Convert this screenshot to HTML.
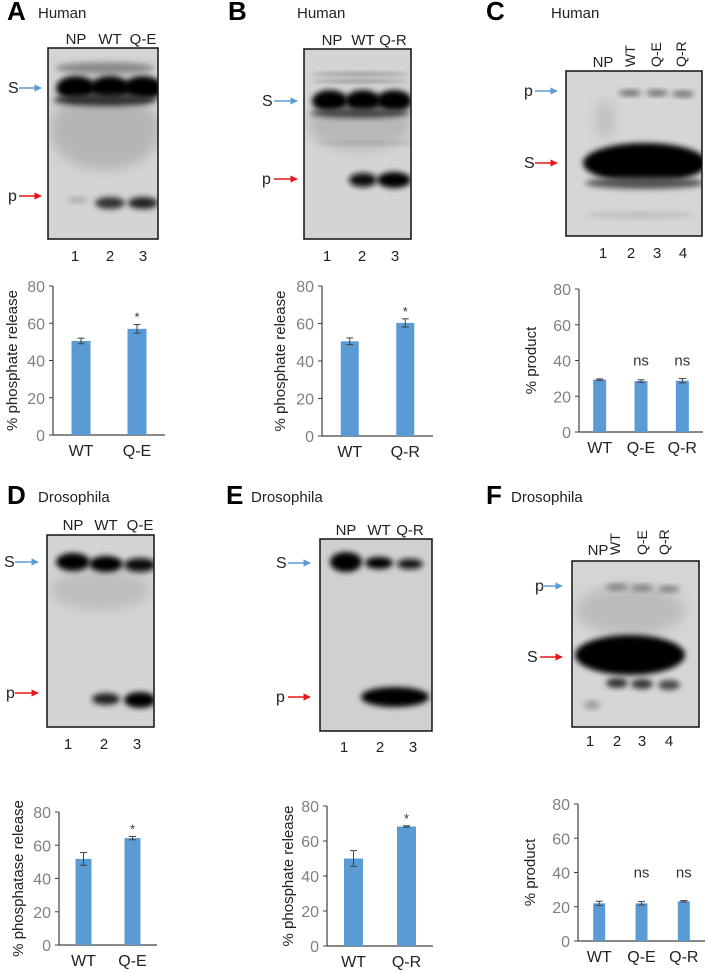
<!DOCTYPE html>
<html><head><meta charset="utf-8">
<style>
html,body{margin:0;padding:0;background:#fff;}
svg{display:block;font-family:"Liberation Sans",Arial,sans-serif;}
</style></head>
<body>
<svg id="fig" width="711" height="973" viewBox="0 0 711 973" xmlns="http://www.w3.org/2000/svg">
<defs>
<filter id="b3" x="-50%" y="-50%" width="200%" height="200%"><feGaussianBlur stdDeviation="3"/></filter>
<filter id="b2" x="-50%" y="-50%" width="200%" height="200%"><feGaussianBlur stdDeviation="2"/></filter>
<filter id="b6" x="-50%" y="-50%" width="200%" height="200%"><feGaussianBlur stdDeviation="6"/></filter>
<marker id="ab" viewBox="0 0 10 10" refX="9" refY="5" markerWidth="5" markerHeight="5" orient="auto"><path d="M0,0L10,5L0,10z" fill="#5b9bd5"/></marker>
<marker id="ar" viewBox="0 0 10 10" refX="9" refY="5" markerWidth="5" markerHeight="5" orient="auto"><path d="M0,0L10,5L0,10z" fill="#e8161b"/></marker>
</defs>
<g id="gels"></g>
<g id="charts"></g>
</svg>
<script>
// ---- chart data ----
const catsA = ["WT","Q-E"];            const valsA = [50.5, 57];          const errA = [1.5, 2.3];        const sigA = ["", "*"];
const catsB = ["WT","Q-R"];            const valsB = [50.5, 60.3];        const errB = [1.8, 2.2];        const sigB = ["", "*"];
const catsC = ["WT","Q-E","Q-R"];      const valsC = [29.3, 28.5, 28.7];  const errC = [0.4, 0.7, 1.2];   const sigC = ["", "ns", "ns"];
const catsD = ["WT","Q-E"];            const valsD = [51.8, 64.3];        const errD = [3.8, 1.0];        const sigD = ["", "*"];
const catsE = ["WT","Q-R"];            const valsE = [50, 68.3];          const errE = [4.5, 0.4];        const sigE = ["", "*"];
const catsF = ["WT","Q-E","Q-R"];      const valsF = [22, 22, 23.2];      const errF = [1.2, 1.0, 0.4];   const sigF = ["", "ns", "ns"];
const yTicks = [0, 20, 40, 60, 80];

const NS = "http://www.w3.org/2000/svg";
function mk(parent, tag, attrs, text){
  const e = document.createElementNS(NS, tag);
  for (const k in attrs) e.setAttribute(k, attrs[k]);
  if (text !== undefined) e.textContent = text;
  parent.appendChild(e);
  return e;
}
const G = document.getElementById("gels");
const C = document.getElementById("charts");

function chart(id, cats, vals, errs, sigs, L, title){
  const g = mk(C, "g", {});
  
  
  const y = v => L.y0 - (v / 80) * (L.y0 - L.y80);
  const n = cats.length;
  const step = (L.xEnd - L.ax) / n;
  const x = i => L.ax + step * (i + 0.5);
  yTicks.forEach(t => {
    const tl = mk(g, "text", {x: L.ax - 8, y: y(t) + 6, "text-anchor": "end", "font-size": 16, fill: "#808080"}, String(t));
    
    
    mk(g, "line", {x1: L.ax - 4, x2: L.ax, y1: y(t), y2: y(t), stroke: "#404040", "stroke-width": 1});
  });
  const ya = mk(g, "line", {x1: L.ax, x2: L.ax, y1: L.y80, y2: L.y0, stroke: "#404040", "stroke-width": 1.2});
  
  
  const xa = mk(g, "line", {x1: L.ax, x2: L.xEnd, y1: L.y0, y2: L.y0, stroke: "#404040", "stroke-width": 1.2});
  
  
  cats.forEach((c, i) => {
    const cx = x(i);
    const b = mk(g, "rect", {x: cx - L.bw / 2, y: y(vals[i]), width: L.bw, height: L.y0 - y(vals[i]), fill: "#5b9bd5"});
    
    
    const eTop = y(vals[i] + errs[i]), eBot = y(vals[i] - errs[i]);
    mk(g, "line", {x1: cx, x2: cx, y1: eTop, y2: eBot, stroke: "#404040", "stroke-width": 1});
    mk(g, "line", {x1: cx - 3.5, x2: cx + 3.5, y1: eTop, y2: eTop, stroke: "#404040", "stroke-width": 1});
    mk(g, "line", {x1: cx - 3.5, x2: cx + 3.5, y1: eBot, y2: eBot, stroke: "#404040", "stroke-width": 1});
    const xl = mk(g, "text", {x: cx, y: L.y0 + 21, "text-anchor": "middle", "font-size": 16, fill: "#222"}, c);
    
    
    if (sigs[i]) {
      const isNs = sigs[i] === "ns";
      const sy = isNs ? y(40) + 5 : eTop - 3;
      const s = mk(g, "text", {x: cx, y: sy, "text-anchor": "middle", "font-size": isNs ? 15 : 13, fill: "#333"}, sigs[i]);
      
      
    }
  });
  const ty = (L.y0 + L.y80) / 2;
  const t = mk(g, "text", {x: L.tx, y: ty, "text-anchor": "middle", "font-size": 15, fill: "#222", transform: `rotate(-90 ${L.tx} ${ty})`}, title);
  
  
}

chart("a", catsA, valsA, errA, sigA, {ax: 53, xEnd: 165, y0: 435, y80: 286, bw: 19, tx: 17}, "% phosphate release");
chart("b", catsB, valsB, errB, sigB, {ax: 322, xEnd: 433, y0: 436, y80: 286, bw: 18, tx: 285}, "% phosphate release");
chart("c", catsC, valsC, errC, sigC, {ax: 579, xEnd: 703, y0: 432, y80: 289, bw: 13, tx: 536}, "% product");
chart("d", catsD, valsD, errD, sigD, {ax: 59, xEnd: 157, y0: 945, y80: 812, bw: 16, tx: 23}, "% phosphatase release");
chart("e", catsE, valsE, errE, sigE, {ax: 327, xEnd: 433, y0: 946, y80: 806, bw: 19, tx: 293}, "% phosphate release");
chart("f", catsF, valsF, errF, sigF, {ax: 578, xEnd: 705, y0: 941, y80: 804, bw: 12, tx: 535}, "% product");

// ---- gel panels ----
function panel(P){
  const g = mk(G, "g", {});
  
  
  const letter = mk(g, "text", {x: P.lx, y: P.ly + 2, "font-size": 26, "font-weight": "bold", fill: "#000"}, P.id.toUpperCase());
  
  
  const sp = mk(g, "text", {x: P.spx, y: P.ly, "font-size": 15, fill: "#222"}, P.species);
  
  
  const clip = "clip" + P.id;
  const cp = mk(g, "clipPath", {id: clip});
  mk(cp, "rect", {x: P.gx, y: P.gy, width: P.gw, height: P.gh});
  const gel = mk(g, "g", {"clip-path": `url(#${clip})`});
  
  
  mk(gel, "rect", {x: P.gx, y: P.gy, width: P.gw, height: P.gh, fill: P.bg});
  P.bands.forEach(b => {
    mk(gel, "ellipse", {cx: b[0], cy: b[1], rx: b[2], ry: b[3], fill: b[4], filter: `url(#${b[5] || "b3"})`});
  });
  const fr = mk(g, "rect", {x: P.gx, y: P.gy, width: P.gw, height: P.gh, fill: "none", stroke: "#111", "stroke-width": 1.5});
  
  
  P.lanes.forEach((l, i) => {
    let t;
    if (P.rot && i > 0) {
      t = mk(g, "text", {x: l[0] + 5, y: P.laneY, "font-size": 14, fill: "#222", transform: `rotate(-90 ${l[0] + 5} ${P.laneY})`}, l[1]);
    } else {
      t = mk(g, "text", {x: l[0], y: P.laneY, "text-anchor": "middle", "font-size": 15, fill: "#222"}, l[1]);
    }
    
    
  });
  P.nums.forEach((nx, i) => {
    const t = mk(g, "text", {x: nx, y: P.numY + 6, "text-anchor": "middle", "font-size": 15, fill: "#222"}, String(i + 1));
    
    
  });
  P.arrows.forEach(a => {
    const t = mk(g, "text", {x: a.tx, y: a.y + 5, "font-size": 16, fill: "#222"}, a.t);
    
    
    const ln = mk(g, "line", {x1: a.x1, x2: a.x2, y1: a.y, y2: a.y, stroke: a.c === "b" ? "#5b9bd5" : "#e8161b", "stroke-width": 1.5, "marker-end": a.c === "b" ? "url(#ab)" : "url(#ar)"});
    
    
  });
}

panel({id: "a", species: "Human", lx: 7, ly: 18, spx: 38, gx: 48, gy: 48, gw: 110, gh: 191, bg: "#d4d4d4",
  laneY: 44, lanes: [[76, "NP"], [110, "WT"], [143, "Q-E"]], nums: [75, 110, 143], numY: 255,
  arrows: [{t: "S", tx: 8, x1: 19, x2: 41, y: 88, c: "b"}, {t: "p", tx: 8, x1: 19, x2: 41, y: 196, c: "r"}],
  bands: [[105, 130, 55, 40, "#b5b5b5", "b6"], [105, 68, 50, 6, "#8a8a8a"], [76, 88, 20, 12, "#000"], [110, 88, 20, 12, "#000"], [143, 88, 20, 12, "#000"],
    [105, 100, 52, 6, "#333", "b3"], [78, 200, 10, 3, "#aaa"], [110, 203, 15, 6, "#333"], [143, 203, 15, 6, "#222"]]});

panel({id: "b", species: "Human", lx: 228, ly: 18, spx: 297, gx: 304, gy: 49, gw: 107, gh: 190, bg: "#d4d4d4",
  laneY: 45, lanes: [[332, "NP"], [363, "WT"], [393, "Q-R"]], nums: [327, 362, 395], numY: 255,
  arrows: [{t: "S", tx: 262, x1: 274, x2: 297, y: 101, c: "b"}, {t: "p", tx: 262, x1: 274, x2: 297, y: 179, c: "r"}],
  bands: [[360, 125, 52, 25, "#b8b8b8", "b6"], [360, 74, 48, 2, "#999", "b2"], [360, 81, 48, 2, "#999", "b2"], [330, 101, 18, 11, "#000"], [363, 101, 18, 11, "#000"], [394, 101, 18, 11, "#000"],
    [360, 113, 50, 5, "#444"], [365, 143, 48, 2, "#aaa", "b2"], [363, 180, 14, 7, "#111"], [394, 180, 17, 8, "#000"]]});

panel({id: "c", species: "Human", lx: 486, ly: 18, spx: 551, gx: 566, gy: 71, gw: 136, gh: 165, bg: "#d6d6d6",
  laneY: 67, rot: true, lanes: [[603, "NP"], [630, "WT"], [656, "Q-E"], [681, "Q-R"]], nums: [603, 631, 657, 683], numY: 252,
  arrows: [{t: "p", tx: 524, x1: 535, x2: 557, y: 91, c: "b"}, {t: "S", tx: 524, x1: 535, x2: 557, y: 163, c: "r"}],
  bands: [[630, 93, 11, 3, "#666"], [657, 93, 11, 3, "#666"], [683, 94, 11, 3, "#666"], [605, 120, 10, 20, "#c0c0c0", "b6"],
    [645, 163, 62, 20, "#000"], [645, 183, 60, 6, "#555"], [640, 215, 55, 3, "#bbb"]]});

panel({id: "d", species: "Drosophila", lx: 7, ly: 502, spx: 38, gx: 47, gy: 535, gw: 107, gh: 192, bg: "#d4d4d4",
  laneY: 530, lanes: [[73, "NP"], [106, "WT"], [140, "Q-E"]], nums: [68, 104, 137], numY: 743,
  arrows: [{t: "S", tx: 4, x1: 15, x2: 38, y: 562, c: "b"}, {t: "p", tx: 6, x1: 15, x2: 38, y: 693, c: "r"}],
  bands: [[100, 590, 50, 20, "#bdbdbd", "b6"], [73, 562, 17, 9, "#000"], [106, 564, 17, 8, "#000"], [140, 565, 16, 7, "#111"],
    [106, 699, 14, 6, "#222"], [140, 700, 16, 8, "#000"]]});

panel({id: "e", species: "Drosophila", lx: 226, ly: 502, spx: 251, gx: 320, gy: 539, gw: 112, gh: 192, bg: "#d0d0d0",
  laneY: 535, lanes: [[346, "NP"], [379, "WT"], [410, "Q-R"]], nums: [344, 380, 413], numY: 746,
  arrows: [{t: "S", tx: 276, x1: 288, x2: 310, y: 563, c: "b"}, {t: "p", tx: 276, x1: 288, x2: 310, y: 697, c: "r"}],
  bands: [[346, 562, 16, 10, "#000"], [379, 563, 14, 6, "#000"], [410, 564, 13, 5, "#111"],
    [395, 697, 34, 10, "#000"]]});

panel({id: "f", species: "Drosophila", lx: 486, ly: 502, spx: 511, gx: 572, gy: 561, gw: 127, gh: 166, bg: "#d6d6d6",
  laneY: 555, rot: true, lanes: [[598, "NP"], [615, "WT"], [642, "Q-E"], [664, "Q-R"]], nums: [590, 617, 642, 669], numY: 740,
  arrows: [{t: "p", tx: 535, x1: 542, x2: 562, y: 586, c: "b"}, {t: "S", tx: 527, x1: 540, x2: 562, y: 657, c: "r"}],
  bands: [[630, 610, 55, 25, "#bcbcbc", "b6"], [617, 587, 11, 3, "#777"], [642, 588, 11, 3, "#777"], [669, 589, 11, 3, "#777"],
    [630, 655, 55, 20, "#000"], [617, 683, 11, 5, "#333"], [642, 684, 11, 5, "#333"], [669, 685, 11, 5, "#444"], [592, 705, 8, 4, "#999"]]});
</script>
</body></html>
